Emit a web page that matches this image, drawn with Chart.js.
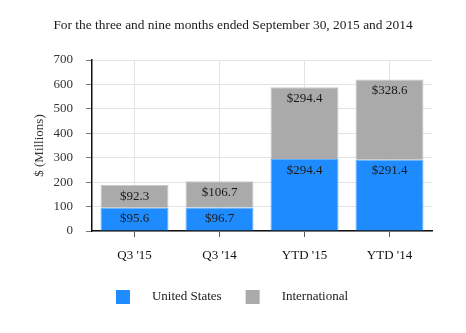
<!DOCTYPE html>
<html>
<head>
<meta charset="utf-8">
<style>
  html, body { margin: 0; padding: 0; background: #ffffff; }
  #wrap { width: 466px; height: 333px; position: relative; }
</style>
<script src="https://cdn.jsdelivr.net/npm/chart.js@4.4.1/dist/chart.umd.min.js"></script>
</head>
<body>
<div id="wrap"><canvas id="chart" width="466" height="333"></canvas></div>
<script>
// Revenue by region, $ millions
const categories = ["Q3 '15", "Q3 '14", "YTD '15", "YTD '14"];
const unitedStates = [95.6, 96.7, 294.4, 291.4];
const international = [92.3, 106.7, 294.4, 328.6];
const seriesNames = ['United States', 'International'];
const yTicks = [0, 100, 200, 300, 400, 500, 600, 700];
const headline = 'For the three and nine months ended September 30, 2015 and 2014';

const SERIF = "'Liberation Serif', 'Times New Roman', serif";
const BLUE = '#1e8cff';
const GRAY = '#aaaaaa';

// Headline centered over the whole canvas
const headlineText = {
  id: 'headlineText',
  afterDraw(chart) {
    const ctx = chart.ctx;
    ctx.save();
    ctx.font = '13.4px ' + SERIF;
    ctx.fillStyle = '#1a1a1a';
    ctx.textAlign = 'center';
    ctx.textBaseline = 'middle';
    ctx.fillText(headline, 233, 25);
    ctx.restore();
  }
};

// Writes "$x.x" just below the top edge of every bar segment
const segmentLabels = {
  id: 'segmentLabels',
  afterDatasetsDraw(chart) {
    const ctx = chart.ctx;
    ctx.save();
    ctx.font = '13px ' + SERIF;
    ctx.fillStyle = '#1a1a1a';
    ctx.textAlign = 'center';
    ctx.textBaseline = 'middle';
    chart.data.datasets.forEach((ds, di) => {
      const meta = chart.getDatasetMeta(di);
      meta.data.forEach((bar, i) => {
        const top = Math.min(bar.y, bar.base);
        ctx.fillText('$' + ds.data[i].toFixed(1), bar.x, top + 11);
      });
    });
    ctx.restore();
  }
};

// Centered legend row under the axis labels
const bottomLegend = {
  id: 'bottomLegend',
  afterDraw(chart) {
    const ctx = chart.ctx;
    ctx.save();
    ctx.font = '13px ' + SERIF;
    ctx.textBaseline = 'middle';
    const box = 14, gap = 22, spacing = 24;
    const items = chart.data.datasets.map(ds => ({
      label: ds.label, color: ds.backgroundColor, w: ctx.measureText(ds.label).width
    }));
    let total = 0;
    items.forEach((it, k) => { total += box + gap + it.w + (k ? spacing : 0); });
    let x = 232 - total / 2;
    const y = 297;
    items.forEach((it, k) => {
      if (k) x += spacing;
      ctx.fillStyle = it.color;
      ctx.fillRect(x, y - box / 2, box, box);
      x += box + gap;
      ctx.fillStyle = '#1a1a1a';
      ctx.fillText(it.label, x, y);
      x += it.w;
    });
    ctx.restore();
  }
};

new Chart(document.getElementById('chart'), {
  type: 'bar',
  data: {
    labels: categories,
    datasets: [
      { label: seriesNames[0], data: unitedStates, backgroundColor: BLUE, borderColor: '#5eaeff', borderWidth: 1 },
      { label: seriesNames[1], data: international, backgroundColor: GRAY, borderColor: '#c9c9c9', borderWidth: 1 }
    ]
  },
  options: {
    responsive: false,
    animation: false,
    devicePixelRatio: 1,
    layout: { padding: { left: 0, right: 34, top: 60, bottom: 0 } },
    datasets: { bar: { categoryPercentage: 1.0, barPercentage: 0.8 } },
    plugins: {
      legend: { display: false },
      tooltip: { enabled: false },
      title: { display: false }
    },
    scales: {
      x: {
        stacked: true,
        afterFit(scale) { scale.height = 102; },
        grid: { offset: false, color: '#e3e3e3', tickColor: '#555', tickLength: 6 },
        border: { color: '#111', width: 1.5 },
        ticks: { color: '#111', font: { family: SERIF, size: 13 }, padding: 11 }
      },
      y: {
        stacked: true,
        min: 0,
        max: 700,
        afterFit(scale) { scale.width = 92; },
        afterBuildTicks(scale) { scale.ticks = yTicks.map(v => ({ value: v })); },
        grid: { color: '#e3e3e3', tickColor: '#777', tickLength: 6 },
        border: { color: '#111', width: 1.5 },
        ticks: { color: '#333', font: { family: SERIF, size: 13 }, padding: 13 },
        title: {
          display: true,
          text: '$ (Millions)',
          color: '#333',
          font: { family: SERIF, size: 13 },
          padding: { top: 32, bottom: 0 }
        }
      }
    }
  },
  plugins: [headlineText, segmentLabels, bottomLegend]
});
</script>
</body>
</html>
